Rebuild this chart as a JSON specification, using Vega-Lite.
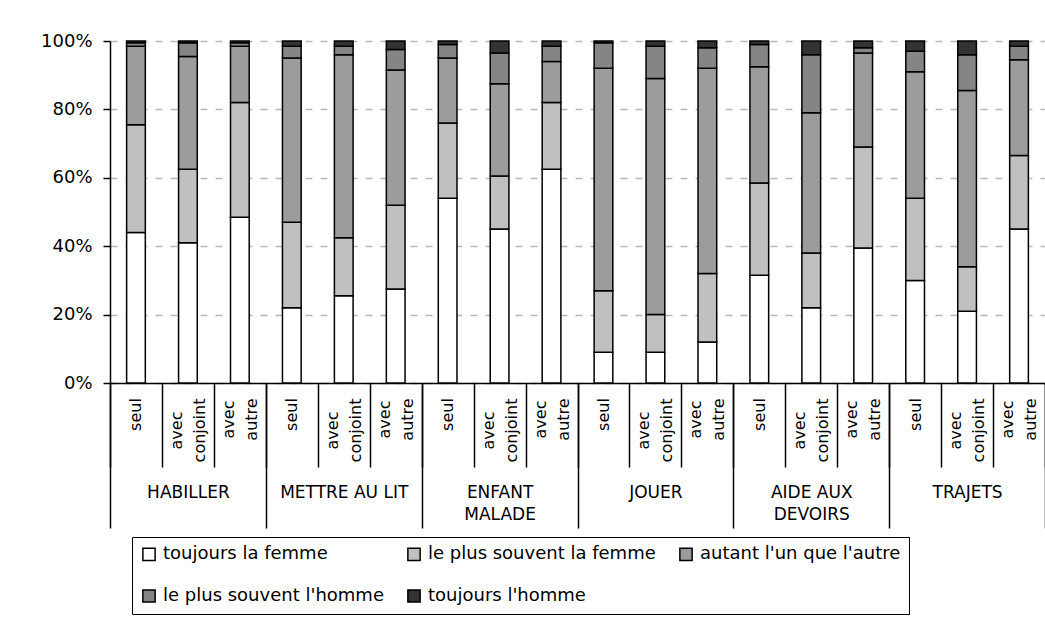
{
  "$schema": "https://vega.github.io/schema/vega-lite/v6.json",
  "autosize": "none",
  "padding": {"left": 110, "top": 41, "right": 0, "bottom": 238},
  "width": 935,
  "height": 342,
  "background": "white",
  "config": {"view": {"stroke": null}, "font": "DejaVu Sans"},
  "datasets": {
    "reponses": [
      {"r": "toujours la femme", "rang": 1},
      {"r": "le plus souvent la femme", "rang": 2},
      {"r": "autant l'un que l'autre", "rang": 3},
      {"r": "le plus souvent l'homme", "rang": 4},
      {"r": "toujours l'homme", "rang": 5}
    ]
  },
  "data": {"values": [
    {"g": "HABILLER", "b": "HABILLER|seul", "r": "toujours la femme", "v": 44},
    {"g": "HABILLER", "b": "HABILLER|seul", "r": "le plus souvent la femme", "v": 31.5},
    {"g": "HABILLER", "b": "HABILLER|seul", "r": "autant l'un que l'autre", "v": 23},
    {"g": "HABILLER", "b": "HABILLER|seul", "r": "le plus souvent l'homme", "v": 1},
    {"g": "HABILLER", "b": "HABILLER|seul", "r": "toujours l'homme", "v": 0.5},
    {"g": "HABILLER", "b": "HABILLER|avec conjoint", "r": "toujours la femme", "v": 41},
    {"g": "HABILLER", "b": "HABILLER|avec conjoint", "r": "le plus souvent la femme", "v": 21.5},
    {"g": "HABILLER", "b": "HABILLER|avec conjoint", "r": "autant l'un que l'autre", "v": 33},
    {"g": "HABILLER", "b": "HABILLER|avec conjoint", "r": "le plus souvent l'homme", "v": 4},
    {"g": "HABILLER", "b": "HABILLER|avec conjoint", "r": "toujours l'homme", "v": 0.5},
    {"g": "HABILLER", "b": "HABILLER|avec autre", "r": "toujours la femme", "v": 48.5},
    {"g": "HABILLER", "b": "HABILLER|avec autre", "r": "le plus souvent la femme", "v": 33.5},
    {"g": "HABILLER", "b": "HABILLER|avec autre", "r": "autant l'un que l'autre", "v": 16.5},
    {"g": "HABILLER", "b": "HABILLER|avec autre", "r": "le plus souvent l'homme", "v": 1},
    {"g": "HABILLER", "b": "HABILLER|avec autre", "r": "toujours l'homme", "v": 0.5},
    {"g": "METTRE AU LIT", "b": "METTRE AU LIT|seul", "r": "toujours la femme", "v": 22},
    {"g": "METTRE AU LIT", "b": "METTRE AU LIT|seul", "r": "le plus souvent la femme", "v": 25},
    {"g": "METTRE AU LIT", "b": "METTRE AU LIT|seul", "r": "autant l'un que l'autre", "v": 48},
    {"g": "METTRE AU LIT", "b": "METTRE AU LIT|seul", "r": "le plus souvent l'homme", "v": 3.5},
    {"g": "METTRE AU LIT", "b": "METTRE AU LIT|seul", "r": "toujours l'homme", "v": 1.5},
    {"g": "METTRE AU LIT", "b": "METTRE AU LIT|avec conjoint", "r": "toujours la femme", "v": 25.5},
    {"g": "METTRE AU LIT", "b": "METTRE AU LIT|avec conjoint", "r": "le plus souvent la femme", "v": 17},
    {"g": "METTRE AU LIT", "b": "METTRE AU LIT|avec conjoint", "r": "autant l'un que l'autre", "v": 53.5},
    {"g": "METTRE AU LIT", "b": "METTRE AU LIT|avec conjoint", "r": "le plus souvent l'homme", "v": 2.5},
    {"g": "METTRE AU LIT", "b": "METTRE AU LIT|avec conjoint", "r": "toujours l'homme", "v": 1.5},
    {"g": "METTRE AU LIT", "b": "METTRE AU LIT|avec autre", "r": "toujours la femme", "v": 27.5},
    {"g": "METTRE AU LIT", "b": "METTRE AU LIT|avec autre", "r": "le plus souvent la femme", "v": 24.5},
    {"g": "METTRE AU LIT", "b": "METTRE AU LIT|avec autre", "r": "autant l'un que l'autre", "v": 39.5},
    {"g": "METTRE AU LIT", "b": "METTRE AU LIT|avec autre", "r": "le plus souvent l'homme", "v": 6},
    {"g": "METTRE AU LIT", "b": "METTRE AU LIT|avec autre", "r": "toujours l'homme", "v": 2.5},
    {"g": "ENFANT MALADE", "b": "ENFANT MALADE|seul", "r": "toujours la femme", "v": 54},
    {"g": "ENFANT MALADE", "b": "ENFANT MALADE|seul", "r": "le plus souvent la femme", "v": 22},
    {"g": "ENFANT MALADE", "b": "ENFANT MALADE|seul", "r": "autant l'un que l'autre", "v": 19},
    {"g": "ENFANT MALADE", "b": "ENFANT MALADE|seul", "r": "le plus souvent l'homme", "v": 4},
    {"g": "ENFANT MALADE", "b": "ENFANT MALADE|seul", "r": "toujours l'homme", "v": 1},
    {"g": "ENFANT MALADE", "b": "ENFANT MALADE|avec conjoint", "r": "toujours la femme", "v": 45},
    {"g": "ENFANT MALADE", "b": "ENFANT MALADE|avec conjoint", "r": "le plus souvent la femme", "v": 15.5},
    {"g": "ENFANT MALADE", "b": "ENFANT MALADE|avec conjoint", "r": "autant l'un que l'autre", "v": 27},
    {"g": "ENFANT MALADE", "b": "ENFANT MALADE|avec conjoint", "r": "le plus souvent l'homme", "v": 9},
    {"g": "ENFANT MALADE", "b": "ENFANT MALADE|avec conjoint", "r": "toujours l'homme", "v": 3.5},
    {"g": "ENFANT MALADE", "b": "ENFANT MALADE|avec autre", "r": "toujours la femme", "v": 62.5},
    {"g": "ENFANT MALADE", "b": "ENFANT MALADE|avec autre", "r": "le plus souvent la femme", "v": 19.5},
    {"g": "ENFANT MALADE", "b": "ENFANT MALADE|avec autre", "r": "autant l'un que l'autre", "v": 12},
    {"g": "ENFANT MALADE", "b": "ENFANT MALADE|avec autre", "r": "le plus souvent l'homme", "v": 4.5},
    {"g": "ENFANT MALADE", "b": "ENFANT MALADE|avec autre", "r": "toujours l'homme", "v": 1.5},
    {"g": "JOUER", "b": "JOUER|seul", "r": "toujours la femme", "v": 9},
    {"g": "JOUER", "b": "JOUER|seul", "r": "le plus souvent la femme", "v": 18},
    {"g": "JOUER", "b": "JOUER|seul", "r": "autant l'un que l'autre", "v": 65},
    {"g": "JOUER", "b": "JOUER|seul", "r": "le plus souvent l'homme", "v": 7.5},
    {"g": "JOUER", "b": "JOUER|seul", "r": "toujours l'homme", "v": 0.5},
    {"g": "JOUER", "b": "JOUER|avec conjoint", "r": "toujours la femme", "v": 9},
    {"g": "JOUER", "b": "JOUER|avec conjoint", "r": "le plus souvent la femme", "v": 11},
    {"g": "JOUER", "b": "JOUER|avec conjoint", "r": "autant l'un que l'autre", "v": 69},
    {"g": "JOUER", "b": "JOUER|avec conjoint", "r": "le plus souvent l'homme", "v": 9.5},
    {"g": "JOUER", "b": "JOUER|avec conjoint", "r": "toujours l'homme", "v": 1.5},
    {"g": "JOUER", "b": "JOUER|avec autre", "r": "toujours la femme", "v": 12},
    {"g": "JOUER", "b": "JOUER|avec autre", "r": "le plus souvent la femme", "v": 20},
    {"g": "JOUER", "b": "JOUER|avec autre", "r": "autant l'un que l'autre", "v": 60},
    {"g": "JOUER", "b": "JOUER|avec autre", "r": "le plus souvent l'homme", "v": 6},
    {"g": "JOUER", "b": "JOUER|avec autre", "r": "toujours l'homme", "v": 2},
    {"g": "AIDE AUX DEVOIRS", "b": "AIDE AUX DEVOIRS|seul", "r": "toujours la femme", "v": 31.5},
    {"g": "AIDE AUX DEVOIRS", "b": "AIDE AUX DEVOIRS|seul", "r": "le plus souvent la femme", "v": 27},
    {"g": "AIDE AUX DEVOIRS", "b": "AIDE AUX DEVOIRS|seul", "r": "autant l'un que l'autre", "v": 34},
    {"g": "AIDE AUX DEVOIRS", "b": "AIDE AUX DEVOIRS|seul", "r": "le plus souvent l'homme", "v": 6.5},
    {"g": "AIDE AUX DEVOIRS", "b": "AIDE AUX DEVOIRS|seul", "r": "toujours l'homme", "v": 1},
    {"g": "AIDE AUX DEVOIRS", "b": "AIDE AUX DEVOIRS|avec conjoint", "r": "toujours la femme", "v": 22},
    {"g": "AIDE AUX DEVOIRS", "b": "AIDE AUX DEVOIRS|avec conjoint", "r": "le plus souvent la femme", "v": 16},
    {"g": "AIDE AUX DEVOIRS", "b": "AIDE AUX DEVOIRS|avec conjoint", "r": "autant l'un que l'autre", "v": 41},
    {"g": "AIDE AUX DEVOIRS", "b": "AIDE AUX DEVOIRS|avec conjoint", "r": "le plus souvent l'homme", "v": 17},
    {"g": "AIDE AUX DEVOIRS", "b": "AIDE AUX DEVOIRS|avec conjoint", "r": "toujours l'homme", "v": 4},
    {"g": "AIDE AUX DEVOIRS", "b": "AIDE AUX DEVOIRS|avec autre", "r": "toujours la femme", "v": 39.5},
    {"g": "AIDE AUX DEVOIRS", "b": "AIDE AUX DEVOIRS|avec autre", "r": "le plus souvent la femme", "v": 29.5},
    {"g": "AIDE AUX DEVOIRS", "b": "AIDE AUX DEVOIRS|avec autre", "r": "autant l'un que l'autre", "v": 27.5},
    {"g": "AIDE AUX DEVOIRS", "b": "AIDE AUX DEVOIRS|avec autre", "r": "le plus souvent l'homme", "v": 1.5},
    {"g": "AIDE AUX DEVOIRS", "b": "AIDE AUX DEVOIRS|avec autre", "r": "toujours l'homme", "v": 2},
    {"g": "TRAJETS", "b": "TRAJETS|seul", "r": "toujours la femme", "v": 30},
    {"g": "TRAJETS", "b": "TRAJETS|seul", "r": "le plus souvent la femme", "v": 24},
    {"g": "TRAJETS", "b": "TRAJETS|seul", "r": "autant l'un que l'autre", "v": 37},
    {"g": "TRAJETS", "b": "TRAJETS|seul", "r": "le plus souvent l'homme", "v": 6},
    {"g": "TRAJETS", "b": "TRAJETS|seul", "r": "toujours l'homme", "v": 3},
    {"g": "TRAJETS", "b": "TRAJETS|avec conjoint", "r": "toujours la femme", "v": 21},
    {"g": "TRAJETS", "b": "TRAJETS|avec conjoint", "r": "le plus souvent la femme", "v": 13},
    {"g": "TRAJETS", "b": "TRAJETS|avec conjoint", "r": "autant l'un que l'autre", "v": 51.5},
    {"g": "TRAJETS", "b": "TRAJETS|avec conjoint", "r": "le plus souvent l'homme", "v": 10.5},
    {"g": "TRAJETS", "b": "TRAJETS|avec conjoint", "r": "toujours l'homme", "v": 4},
    {"g": "TRAJETS", "b": "TRAJETS|avec autre", "r": "toujours la femme", "v": 45},
    {"g": "TRAJETS", "b": "TRAJETS|avec autre", "r": "le plus souvent la femme", "v": 21.5},
    {"g": "TRAJETS", "b": "TRAJETS|avec autre", "r": "autant l'un que l'autre", "v": 28},
    {"g": "TRAJETS", "b": "TRAJETS|avec autre", "r": "le plus souvent l'homme", "v": 4},
    {"g": "TRAJETS", "b": "TRAJETS|avec autre", "r": "toujours l'homme", "v": 1.5}
  ]},
  "transform": [
    {"lookup": "r", "from": {"data": {"name": "reponses"}, "key": "r", "fields": ["rang"]}}
  ],
  "layer": [
    {
      "mark": {"type": "bar", "stroke": "black", "strokeWidth": 1.5, "width": {"band": 0.36}},
      "encoding": {
        "x": {
          "field": "b", "type": "nominal", "sort": null,
          "scale": {"paddingInner": 0, "paddingOuter": 0},
          "axis": {
            "title": null, "orient": "bottom", "grid": false,
            "domainColor": "black", "domainWidth": 1.5,
            "ticks": true, "tickBand": "extent", "tickSize": 84, "tickColor": "black", "tickWidth": 1.5,
            "labelAngle": 270, "labelAlign": "center", "labelBaseline": "middle",
            "labelPadding": {
              "condition": [
                {"test": "isString(datum.value) && indexof(datum.value, 'conjoint') >= 0", "value": -37},
                {"test": "isString(datum.value) && indexof(datum.value, 'autre') >= 0", "value": -48}
              ],
              "value": -53
            },
            "labelOffset": {
              "condition": {"test": "isString(datum.value) && indexof(datum.value, 'avec') >= 0", "value": -11.5},
              "value": 0
            },
            "labelFont": "DejaVu Sans", "labelFontSize": 16, "labelColor": "black", "labelLineHeight": 23,
            "labelOverlap": false, "labelBound": false, "labelFlush": false, "labelLimit": 300,
            "labelExpr": "isString(datum.value) ? split(split(datum.value, '|')[1], ' ') : ''"
          }
        },
        "y": {
          "field": "v", "type": "quantitative", "stack": "normalize",
          "scale": {"domain": [0, 1]},
          "axis": {
            "title": null, "format": ".0%", "values": [0, 0.2, 0.4, 0.6, 0.8, 1],
            "domainColor": "black", "domainWidth": 1.5,
            "tickColor": "black", "tickWidth": 1.5, "tickSize": 7,
            "labelPadding": 11, "labelFont": "DejaVu Sans", "labelFontSize": 18, "labelColor": "black",
            "grid": true, "gridColor": "#b8b8b8", "gridDash": [7, 8], "gridWidth": 1.5
          }
        },
        "color": {
          "field": "r", "type": "nominal",
          "scale": {
            "domain": ["toujours la femme", "le plus souvent la femme", "autant l'un que l'autre", "le plus souvent l'homme", "toujours l'homme"],
            "range": ["#ffffff", "#c0c0c0", "#9c9c9c", "#858585", "#333333"]
          },
          "legend": {
            "title": null, "orient": "none", "legendX": 22, "legendY": 496,
            "direction": "horizontal", "columns": 3,
            "symbolType": "square", "symbolSize": 150, "symbolStrokeColor": "black", "symbolStrokeWidth": 1.5,
            "labelFont": "DejaVu Sans", "labelFontSize": 18, "labelColor": "black", "labelLimit": 400, "labelOffset": 5,
            "columnPadding": 20, "rowPadding": 22, "padding": 8,
            "strokeColor": "black", "fillColor": "white"
          }
        },
        "order": {"field": "rang", "type": "quantitative", "sort": "ascending"}
      }
    },
    {
      "mark": {"type": "point", "opacity": 0},
      "encoding": {
        "x": {
          "field": "g", "type": "nominal", "sort": null,
          "scale": {"paddingInner": 0, "paddingOuter": 0},
          "axis": {
            "title": null, "orient": "bottom", "grid": false, "domain": false,
            "ticks": true, "tickBand": "extent", "tickSize": 145, "tickColor": "black", "tickWidth": 1.5,
            "labelAngle": 0, "labelAlign": "center", "labelBaseline": "top", "labelPadding": -44,
            "labelFont": "DejaVu Sans", "labelFontSize": 17, "labelColor": "black", "labelLineHeight": 22,
            "labelOverlap": false, "labelBound": false, "labelFlush": false, "labelLimit": 300,
            "labelExpr": "!isString(datum.value) ? '' : datum.value == 'ENFANT MALADE' ? ['ENFANT', 'MALADE'] : datum.value == 'AIDE AUX DEVOIRS' ? ['AIDE AUX', 'DEVOIRS'] : datum.value"
          }
        }
      }
    }
  ],
  "resolve": {"scale": {"x": "independent"}}
}
